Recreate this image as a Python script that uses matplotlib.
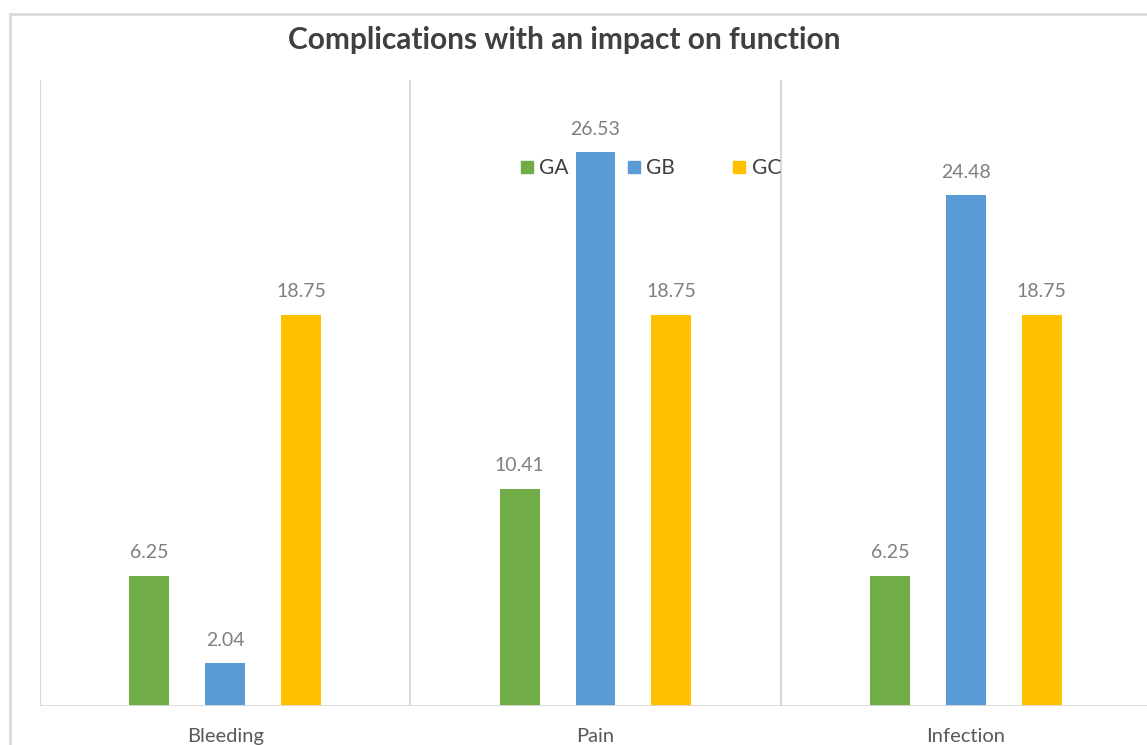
import numpy as np
import matplotlib.pyplot as plt
from matplotlib.lines import Line2D
from matplotlib.patches import Rectangle

plt.rcParams['font.family'] = ['Lato', 'DejaVu Sans']

# Complication rates (%) per group
categories = ['Bleeding', 'Pain', 'Infection']
groups = ['GA', 'GB', 'GC']
ga = [6.25, 10.41, 6.25]
gb = [2.04, 26.53, 24.48]
gc = [18.75, 18.75, 18.75]

colors = ['#70ad47', '#5b9bd5', '#ffc000']
series = [ga, gb, gc]

fig = plt.figure(figsize=(11.47, 7.45), dpi=100)
ax = fig.add_axes([40 / 1147, 1 - 706 / 745, 1111 / 1147, 626 / 745])

x = np.arange(len(categories))
offsets = [-0.205, 0.0, 0.205]
width = 0.108

for vals, off, col in zip(series, offsets, colors):
    bars = ax.bar(x + off, vals, width, color=col, zorder=3)
    for b, v in zip(bars, vals):
        ax.text(b.get_x() + b.get_width() / 2, v + 0.7, f'{v:.2f}',
                ha='center', va='bottom', fontsize=14, color='#7f7f7f')

ax.set_xlim(-0.5, 2.5)
ax.set_ylim(0, 30)

# category separators and baseline
for xv in [-0.5, 0.5, 1.5, 2.5]:
    ax.axvline(xv, color='#d9d9d9', lw=1.5, zorder=1)
ax.axhline(0, color='#d9d9d9', lw=2, zorder=4)

for s in ax.spines.values():
    s.set_visible(False)
ax.set_yticks([])
ax.set_xticks(x)
ax.set_xticklabels(categories, fontsize=14.5, color='#595959')
ax.tick_params(axis='x', length=0, pad=16)

# chart border
fig.patches.append(Rectangle((10 / 1147, -0.1), 1.2, 1 - 14 / 745 + 0.1,
                             transform=fig.transFigure, fill=False,
                             edgecolor='#d9d9d9', lw=2))

fig.text(564 / 1147, 1 - 40 / 745, 'Complications with an impact on function',
         ha='center', va='center', fontsize=21.5, fontweight='bold', color='#404040')

handles = [Line2D([], [], marker='s', linestyle='none', markersize=8,
                  markerfacecolor=c, markeredgecolor=c) for c in colors]
leg = ax.legend(handles, groups, loc='center',
                bbox_to_anchor=(651 / 1147, 1 - 168 / 745),
                bbox_transform=fig.transFigure,
                ncol=3, frameon=False, fontsize=15, handlelength=0.6,
                handletextpad=0.3, columnspacing=2.8, labelcolor='#404040')
leg.set_zorder(6)

fig.savefig('out.png', dpi=100)
